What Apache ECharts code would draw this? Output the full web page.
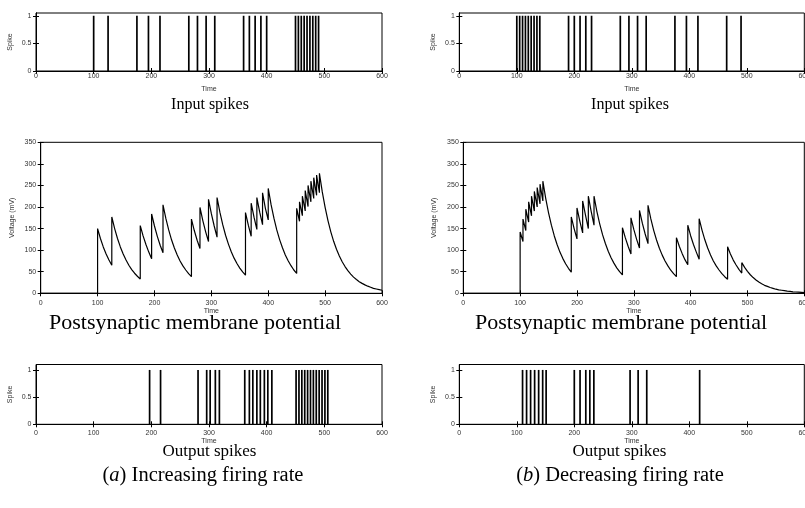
<!DOCTYPE html>
<html>
<head>
<meta charset="utf-8">
<script src="https://cdn.jsdelivr.net/npm/echarts@6/dist/echarts.min.js"></script>
<style>
  html, body { margin: 0; padding: 0; background: #fff; }
  #chart { width: 805px; height: 508px; }
</style>
</head>
<body>
<div id="chart"></div>
<script>
// spike times
const inputSpikesA = [100, 125, 175, 195, 215, 265, 280, 295, 310, 360, 370, 380, 390, 400,
  450, 455, 460, 465, 470, 475, 480, 485, 490];
const outputSpikesA = [197, 216, 281, 296, 302, 311, 318, 362, 370, 376, 383, 389, 396, 402, 409,
  451, 456, 461, 466, 471, 476, 481, 486, 491, 496, 501, 506];
const inputSpikesB = [100, 105, 110, 115, 120, 125, 130, 135, 140, 190, 200, 210, 220, 230,
  280, 295, 310, 325, 375, 395, 415, 465, 490];
const outputSpikesB = [110, 117, 124, 131, 138, 145, 151, 200, 210, 220, 227, 234, 297, 311, 326, 418];

// membrane potential [time, mV]
const voltageA = [[0, 0], [100, 0], [100, 150], [105, 127], [110, 107.5], [115, 91], [120, 77], [125, 65],
  [125, 177], [130, 150], [135, 127], [140, 107.5], [145, 91], [150, 77], [155, 65], [160, 55], [165, 46.5],
  [170, 39.5], [175, 33], [175, 157], [180, 133], [185, 113], [190, 95.5], [195, 80], [195, 184], [200, 156],
  [205, 132], [210, 111.5], [215, 94], [215, 205], [220, 173.5], [225, 147], [230, 124], [235, 105], [240, 89],
  [245, 75], [250, 63.5], [255, 54], [260, 45.5], [265, 38.5], [265, 172], [270, 145.5], [275, 123], [280, 104],
  [280, 199], [285, 168.5], [290, 142.5], [295, 120], [295, 218], [300, 184.5], [305, 156], [310, 130],
  [310, 222], [315, 188], [320, 159], [325, 134.5], [330, 114], [335, 96.5], [340, 81.5], [345, 69],
  [350, 58.5], [355, 49.5], [360, 42], [360, 187], [365, 158], [370, 132], [370, 209], [375, 176.5],
  [380, 148], [380, 222], [385, 188], [390, 159], [390, 233], [395, 197], [400, 170], [400, 243],
  [405, 205.5], [410, 174], [415, 147], [420, 124.5], [425, 105.5], [430, 89], [435, 75.5], [440, 64],
  [445, 54], [450, 46], [450, 197], [455, 167], [455, 212], [460, 180], [460, 225], [465, 191], [465, 238],
  [470, 201], [470, 250], [475, 212], [475, 260], [480, 220], [480, 268], [485, 227], [485, 274], [490, 233],
  [490, 278], [495, 235], [500, 199], [505, 168.5], [510, 142.5], [515, 120.5], [520, 102], [525, 86.5],
  [530, 73], [535, 62], [540, 52.5], [545, 44.5], [550, 37.5], [555, 32], [560, 27], [565, 23], [570, 19.5],
  [575, 16.5], [580, 14], [585, 11.5], [590, 10], [595, 8.5], [600, 7]];

const voltageB = [[0, 0], [100, 0], [100, 142], [105, 120], [105, 172], [110, 145.5], [110, 195], [115, 165],
  [115, 212], [120, 179.5], [120, 225], [125, 190.5], [125, 236], [130, 200], [130, 245], [135, 207.5],
  [135, 253], [140, 214], [140, 260], [145, 220], [150, 186.5], [155, 158], [160, 133.5], [165, 113],
  [170, 95.5], [175, 81], [180, 68.5], [185, 58], [190, 49], [190, 177], [195, 150], [200, 126], [200, 198],
  [205, 167.5], [210, 140], [210, 214], [215, 181], [220, 150], [220, 225], [225, 190], [230, 158], [230, 225],
  [235, 190], [240, 161], [245, 136], [250, 115.5], [255, 97.5], [260, 82.5], [265, 70], [270, 59], [275, 50],
  [280, 42.5], [280, 152], [285, 129], [290, 109], [295, 91], [295, 175], [300, 148], [305, 125], [310, 105],
  [310, 192], [315, 162.5], [320, 137.5], [325, 115], [325, 204], [330, 172.5], [335, 146], [340, 123.5],
  [345, 104.5], [350, 88.5], [355, 75], [360, 63.5], [365, 53.5], [370, 45.5], [375, 38.5], [375, 129],
  [380, 109], [385, 92.5], [390, 78], [395, 66], [395, 158], [400, 133.5], [405, 113], [410, 95.5], [415, 79],
  [415, 173], [420, 146.5], [425, 124], [430, 105], [435, 89], [440, 75], [445, 63.5], [450, 54], [455, 45.5],
  [460, 38.5], [465, 32.5], [465, 108], [470, 91], [475, 77], [480, 65.5], [485, 55.5], [490, 47], [490, 71],
  [495, 60], [500, 51], [505, 43], [510, 36.5], [515, 31], [520, 26], [525, 22], [530, 18.5], [535, 16],
  [540, 13.5], [545, 11.5], [550, 9.5], [555, 8], [560, 7], [565, 6], [570, 5], [575, 4.5], [580, 3.5],
  [585, 3], [590, 2.5], [595, 2], [600, 1.5]];

const spikeTicks = [0, 0.5, 1];
const panelTitles = ['Input spikes', 'Postsynaptic membrane potential', 'Output spikes'];
const captionLetters = ['a', 'b'];
const captionTexts = [' Increasing firing rate', ' Decreasing firing rate'];
const xName = 'Time';
const spikeName = 'Spike';
const voltName = 'Voltage (mV)';

const sans = 'Liberation Sans, Arial, sans-serif';
const serif = 'Liberation Serif, Times New Roman, serif';
const tickColor = '#333';

// layout of the six plots
const panels = [
  { left: 36, top: 13, width: 346, height: 58, kind: 'spike', data: inputSpikesA, lm: 1.5, ng: 15, yMax: 1.05 },
  { left: 40.7, top: 142.3, width: 341.3, height: 151, kind: 'volt', data: voltageA, lm: 6.5, ng: 14.5 },
  { left: 36, top: 364.5, width: 346, height: 59.8, kind: 'spike', data: outputSpikesA, lm: 5, ng: 13, yMax: 1.1 },
  { left: 459.3, top: 13, width: 345, height: 58, kind: 'spike', data: inputSpikesB, lm: 1.5, ng: 15, yMax: 1.05 },
  { left: 463.3, top: 142.3, width: 341, height: 151, kind: 'volt', data: voltageB, lm: 6.5, ng: 14.5 },
  { left: 459.3, top: 364.5, width: 345, height: 59.8, kind: 'spike', data: outputSpikesB, lm: 5, ng: 13, yMax: 1.1 }
];

const grid = [], xAxis = [], yAxis = [], series = [];
const axisLine = { show: true, lineStyle: { color: '#000', width: 1 } };
const axisTick = { show: true, inside: true, length: 3, lineStyle: { color: '#000', width: 1 } };

panels.forEach((p, i) => {
  grid.push({ left: p.left, top: p.top, width: p.width, height: p.height,
    outerBoundsMode: 'none', containLabel: false,
    show: true, borderColor: '#000', borderWidth: 1, backgroundColor: 'transparent' });
  const xBase = { gridIndex: i, type: 'value', min: 0, max: 600, interval: 100,
    axisLine, axisTick, splitLine: { show: false } };
  xAxis.push(Object.assign({}, xBase, {
    position: 'bottom',
    axisLabel: { fontSize: 7, color: tickColor, fontFamily: sans, margin: p.lm },
    name: xName, nameLocation: 'middle', nameGap: p.ng,
    nameTextStyle: { fontSize: 7, color: tickColor, fontFamily: sans }
  }));
  xAxis.push(Object.assign({}, xBase, { position: 'top', axisLabel: { show: false } }));

  const isVolt = p.kind === 'volt';
  const yBase = { gridIndex: i, type: 'value', min: 0,
    max: isVolt ? 350 : p.yMax, interval: isVolt ? 50 : 0.5,
    axisLine, splitLine: { show: false },
    axisTick: isVolt ? axisTick : Object.assign({}, axisTick, { customValues: spikeTicks }) };
  const yLabel = { fontSize: 7, color: tickColor, fontFamily: sans, margin: 4.5 };
  if (!isVolt) yLabel.customValues = spikeTicks;
  yAxis.push(Object.assign({}, yBase, {
    position: 'left',
    axisLabel: yLabel,
    name: isVolt ? voltName : spikeName, nameLocation: 'middle', nameGap: isVolt ? 25.5 : 22.5,
    nameTextStyle: { fontSize: 7, color: tickColor, fontFamily: sans }
  }));
  yAxis.push(Object.assign({}, yBase, { position: 'right', axisLabel: { show: false } }));

  if (isVolt) {
    series.push({ type: 'line', xAxisIndex: 2 * i, yAxisIndex: 2 * i, data: p.data,
      symbol: 'none', lineStyle: { color: '#000', width: 1.2 }, silent: true });
  } else {
    series.push({ type: 'bar', xAxisIndex: 2 * i, yAxisIndex: 2 * i,
      data: p.data.map(t => [t, 1]), barWidth: 1.7,
      itemStyle: { color: '#000' }, silent: true });
  }
});

// captions under each plot
const titleSpec = [
  { cx: [210, 630], y: 105, size: 16 },
  { cx: [195, 621], y: 323, size: 22 },
  { cx: [209.5, 619.5], y: 452, size: 17 }
];
const graphic = [];
titleSpec.forEach((t, r) => {
  t.cx.forEach(cx => {
    graphic.push({ type: 'text', x: cx, y: t.y,
      style: { text: panelTitles[r], font: t.size + 'px ' + serif, fill: '#000',
        textAlign: 'center', textVerticalAlign: 'middle' } });
  });
});
[203, 620].forEach((cx, k) => {
  graphic.push({ type: 'text', x: cx, y: 476,
    style: { text: '{p|(}{i|' + captionLetters[k] + '}{p|)' + captionTexts[k] + '}',
      textAlign: 'center', textVerticalAlign: 'middle',
      rich: {
        p: { fontSize: 20.5, fontFamily: serif, fill: '#000', color: '#000' },
        i: { fontSize: 20.5, fontFamily: serif, fontStyle: 'italic', fill: '#000', color: '#000' }
      } } });
});

const chart = echarts.init(document.getElementById('chart'), null, { renderer: 'canvas' });
chart.setOption({
  animation: false,
  backgroundColor: '#fff',
  grid, xAxis, yAxis, series, graphic
});
</script>
</body>
</html>
